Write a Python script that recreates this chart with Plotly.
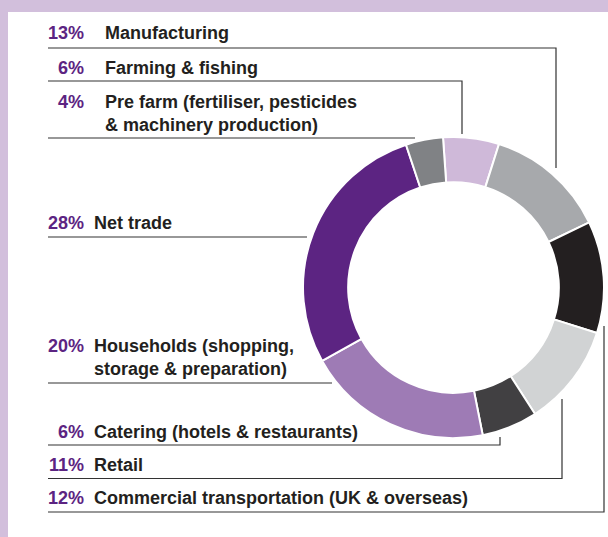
import plotly.graph_objects as go

# ---- data ----
categories = [
    "Farming & fishing",
    "Manufacturing",
    "Commercial transportation (UK & overseas)",
    "Retail",
    "Catering (hotels & restaurants)",
    "Households (shopping, storage & preparation)",
    "Net trade",
    "Pre farm (fertiliser, pesticides & machinery production)",
]
shares = [6, 13, 12, 11, 6, 20, 28, 4]
slice_colors = ["#cfb9d9", "#a7a9ac", "#231f20", "#d1d3d4", "#414042",
                "#9e7bb5", "#5c2482", "#808285"]

# label rows in reading order (top to bottom)
row_pct = ["13%", "6%", "4%", "28%", "20%", "6%", "11%", "12%"]
row_text = [
    "Manufacturing",
    "Farming & fishing",
    "Pre farm (fertiliser, pesticides<br>& machinery production)",
    "Net trade",
    "Households (shopping,<br>storage & preparation)",
    "Catering (hotels & restaurants)",
    "Retail",
    "Commercial transportation (UK & overseas)",
]

W, H = 608, 537
FONT = "Liberation Sans, Arial, sans-serif"
PURPLE = "#5c2482"
DARK = "#231f20"
LINE = "#333333"

fig = go.Figure()

# donut geometry (pixels)
cx, cy, R = 453.5, 287.5, 150.5
fig.add_trace(go.Pie(
    labels=categories,
    values=shares,
    sort=False,
    direction="clockwise",
    rotation=-4,
    hole=0.70,
    marker=dict(colors=slice_colors, line=dict(color="white", width=2)),
    textinfo="none",
    hoverinfo="label+percent",
    domain=dict(x=[(cx - R) / W, (cx + R) / W],
                y=[(H - (cy + R)) / H, (H - (cy - R)) / H]),
    showlegend=False,
))

# layout rows: first-line centre y, block centre y, text x
row_y1 = [33, 68, 102, 223, 346, 432, 464.5, 498]
row_yc = [33, 68, 113, 223, 357.5, 432, 464.5, 498]
row_tx = [103, 103, 103, 92, 92, 92, 92, 92]

annotations = []
for p, t, y1, yc, tx in zip(row_pct, row_text, row_y1, row_yc, row_tx):
    annotations.append(dict(x=86, y=y1, xref="x", yref="y", text="<b>%s</b>" % p,
                            showarrow=False, xanchor="right", yanchor="middle",
                            font=dict(family=FONT, size=18, color=PURPLE)))
    annotations.append(dict(x=tx, y=yc, xref="x", yref="y", text="<b>%s</b>" % t,
                            showarrow=False, xanchor="left", yanchor="middle", align="left",
                            font=dict(family=FONT, size=18, color=DARK)))

shapes = [
    # white panel on lavender frame
    dict(type="rect", xref="x", yref="y", x0=8, x1=W + 2, y0=12, y1=H + 2,
         fillcolor="white", line=dict(width=0), layer="below"),
]

leaders = [
    [(48, 48), (556, 48), (556, 168)],      # Manufacturing
    [(48, 81), (462, 81), (462, 134)],      # Farming & fishing
    [(48, 138), (415, 138)],                # Pre farm
    [(48, 237), (307, 237)],                # Net trade
    [(48, 383), (332, 383)],                # Households
    [(48, 445), (500, 445), (500, 437)],    # Catering
    [(48, 478.5), (562, 478.5), (562, 399)],  # Retail
    [(48, 512), (604, 512), (604, 326)],    # Commercial transportation
]
for pts in leaders:
    path = "M %s %s " % pts[0] + " ".join("L %s %s" % p for p in pts[1:])
    shapes.append(dict(type="path", xref="x", yref="y", path=path,
                       line=dict(color=LINE, width=1.2), layer="above"))

fig.update_layout(
    width=W, height=H,
    margin=dict(l=0, r=0, t=0, b=0),
    paper_bgcolor="#d2bfdc",
    plot_bgcolor="rgba(0,0,0,0)",
    xaxis=dict(range=[0, W], visible=False, fixedrange=True),
    yaxis=dict(range=[H, 0], visible=False, fixedrange=True),
    annotations=annotations,
    shapes=shapes,
)

fig.write_html(
    "out.html",
    config={"displayModeBar": False},
    post_script="document.body.style.margin='0';document.body.style.overflow='hidden';",
)
